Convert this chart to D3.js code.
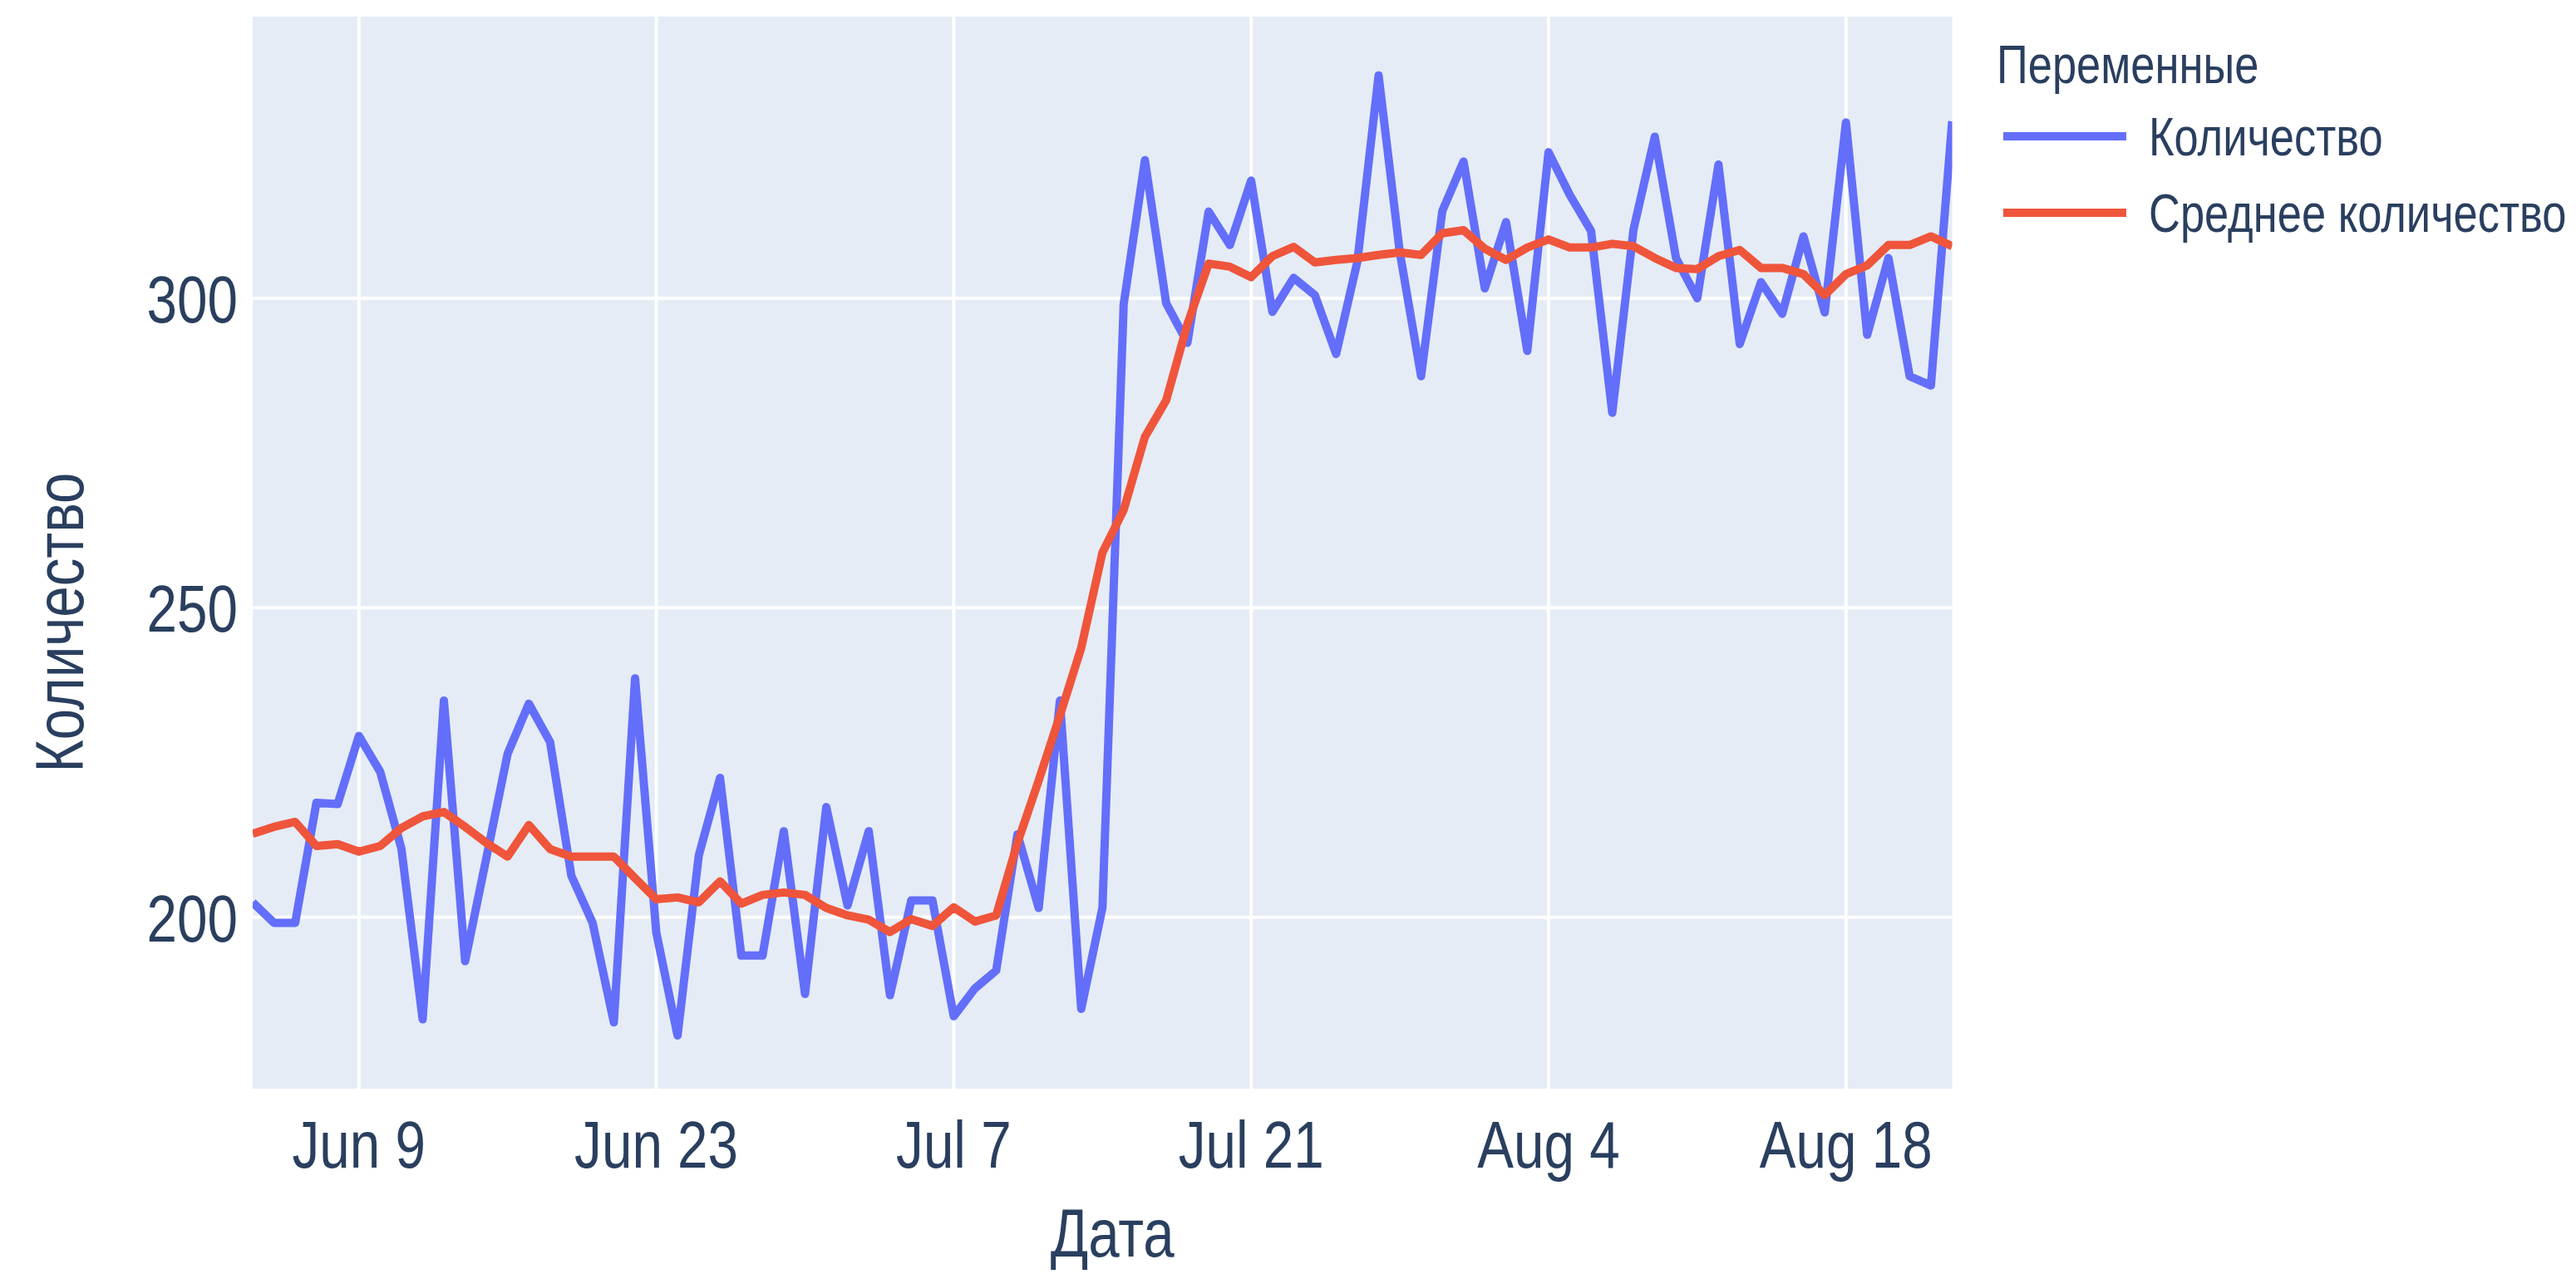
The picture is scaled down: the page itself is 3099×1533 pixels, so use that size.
<!DOCTYPE html>
<html>
<head>
<meta charset="utf-8">
<script src="https://cdnjs.cloudflare.com/ajax/libs/d3/7.8.5/d3.min.js"></script>
<style>
  body { margin: 0; background: #fff; }
  svg { display: block; }
  text { font-family: "Liberation Sans", Arial, sans-serif; fill: #2a3f5f; }
</style>
</head>
<body>
<div id="chart"></div>
<script>
// daily data, Jun 4 .. Aug 23
var startDay = '2023-06-04';
var endDay = '2023-08-24';

var counts = [
  202.4, 199.1, 199.1, 218.5, 218.3, 229.3, 223.5, 211.1, 183.5, 235.0,
  192.9, 209.6, 226.4, 234.5, 228.3, 206.7, 199.1, 183.0, 238.6, 197.5,
  180.9, 210.0, 222.5, 193.8, 193.8, 213.9, 187.6, 217.8, 201.9, 213.9,
  187.4, 202.7, 202.7, 184.0, 188.5, 191.4, 213.4, 201.5, 235.0, 185.2,
  201.5, 299.0, 322.3, 299.2, 292.8, 314.0, 308.6, 319.0, 297.8, 303.3,
  300.5, 291.0, 305.9, 336.0, 307.4, 287.4, 314.1, 322.1, 301.6, 312.3,
  291.5, 323.6, 316.7, 310.9, 281.5, 311.1, 326.1, 306.5, 300.0, 321.6,
  292.6, 302.6, 297.5, 310.0, 297.7, 328.4, 294.1, 306.5, 287.4, 285.9,
  328.6
];

var meanCounts = [
  213.5, 214.6, 215.4, 211.5, 211.8, 210.6, 211.5, 214.4, 216.3, 217.0,
  214.6, 212.0, 209.8, 214.9, 211.0, 209.8, 209.8, 209.8, 206.3, 202.9,
  203.2, 202.4, 205.8, 202.2, 203.6, 204.0, 203.6, 201.5, 200.3, 199.6,
  197.6, 199.7, 198.6, 201.6, 199.3, 200.3, 212.0, 222.1, 232.6, 243.5,
  258.9, 265.8, 277.6, 283.5, 295.8, 305.6, 305.1, 303.4, 306.8, 308.3,
  305.8, 306.2, 306.5, 307.0, 307.4, 307.0, 310.5, 311.0, 308.0, 306.2,
  308.2, 309.5, 308.2, 308.2, 308.8, 308.4, 306.5, 304.9, 304.7, 306.8,
  307.8, 304.9, 304.9, 303.9, 300.5, 303.9, 305.3, 308.6, 308.6, 310.0,
  308.4
];

var tickDates = ['2023-06-09', '2023-06-23', '2023-07-07', '2023-07-21', '2023-08-04', '2023-08-18'];
var tickLabels = ['Jun 9', 'Jun 23', 'Jul 7', 'Jul 21', 'Aug 4', 'Aug 18'];
var yTicks = [200, 250, 300];
var yRange = [172.3, 345.5];

var seriesNames = ['Количество', 'Среднее количество'];
var seriesColors = ['#636efa', '#ef553b'];

function ready() {
  var parse = d3.utcParse('%Y-%m-%d');
  var days = d3.utcDay.range(parse(startDay), parse(endDay));

  var W = 3099, H = 1533;
  var left = 304, right = 2348.5, top = 20, bottom = 1310;
  var narrow = 'scale(0.82,1)';

  var svg = d3.select('#chart').append('svg')
              .attr('width', W)
              .attr('height', H);

  var x = d3.scaleUtc()
            .domain([days[0], days[days.length - 1]])
            .range([left, right]);

  var y = d3.scaleLinear()
            .domain(yRange)
            .range([bottom, top]);

  // plot background
  svg.append('rect')
     .attr('x', left)
     .attr('y', top)
     .attr('width', right - left)
     .attr('height', bottom - top)
     .attr('fill', '#e5ecf6');

  // grid
  svg.append('g')
     .selectAll('line')
     .data(tickDates)
     .enter().append('line')
       .attr('x1', function(d) { return x(parse(d)); })
       .attr('x2', function(d) { return x(parse(d)); })
       .attr('y1', top)
       .attr('y2', bottom)
       .attr('stroke', '#fff')
       .attr('stroke-width', 4);

  svg.append('g')
     .selectAll('line')
     .data(yTicks)
     .enter().append('line')
       .attr('x1', left)
       .attr('x2', right)
       .attr('y1', function(d) { return y(d); })
       .attr('y2', function(d) { return y(d); })
       .attr('stroke', '#fff')
       .attr('stroke-width', 4);

  // lines
  svg.append('clipPath').attr('id', 'plotclip')
     .append('rect')
     .attr('x', left).attr('y', top)
     .attr('width', right - left).attr('height', bottom - top);

  var line = d3.line()
               .x(function(d, i) { return x(days[i]); })
               .y(function(d) { return y(d); });

  [counts, meanCounts].forEach(function(vals, k) {
    svg.append('path')
       .datum(vals)
       .attr('d', line)
       .attr('clip-path', 'url(#plotclip)')
       .attr('fill', 'none')
       .attr('stroke', seriesColors[k])
       .attr('stroke-width', 10)
       .attr('stroke-linejoin', 'round');
  });

  // tick labels
  svg.append('g')
     .selectAll('text')
     .data(tickDates)
     .enter().append('text')
       .attr('transform', function(d) { return 'translate(' + x(parse(d)) + ',1405) ' + narrow; })
       .attr('text-anchor', 'middle')
       .style('font-size', '80px')
       .text(function(d, i) { return tickLabels[i]; });

  svg.append('g')
     .selectAll('text')
     .data(yTicks)
     .enter().append('text')
       .attr('transform', function(d) { return 'translate(286,' + (y(d) + 29) + ') ' + narrow; })
       .attr('text-anchor', 'end')
       .style('font-size', '80px')
       .text(function(d) { return d; });

  // axis titles
  svg.append('text')
     .attr('transform', 'translate(' + ((left + right) / 2 + 12) + ',1512) ' + narrow)
     .attr('text-anchor', 'middle')
     .style('font-size', '82px')
     .text('Дата');

  svg.append('text')
     .attr('transform', 'translate(100,749) rotate(-90) ' + narrow)
     .attr('text-anchor', 'middle')
     .style('font-size', '82px')
     .text('Количество');

  // legend
  var legend = svg.append('g');

  legend.append('text')
        .attr('transform', 'translate(2402,100) ' + narrow)
        .style('font-size', '64px')
        .text('Переменные');

  seriesNames.forEach(function(name, k) {
    var ly = 164 + k * 92;
    legend.append('line')
          .attr('x1', 2410).attr('x2', 2558)
          .attr('y1', ly).attr('y2', ly)
          .attr('stroke', seriesColors[k])
          .attr('stroke-width', 10);
    legend.append('text')
          .attr('transform', 'translate(2585,' + (ly + 23) + ') ' + narrow)
          .style('font-size', '64px')
          .text(name);
  });
}

ready();
</script>
</body>
</html>
